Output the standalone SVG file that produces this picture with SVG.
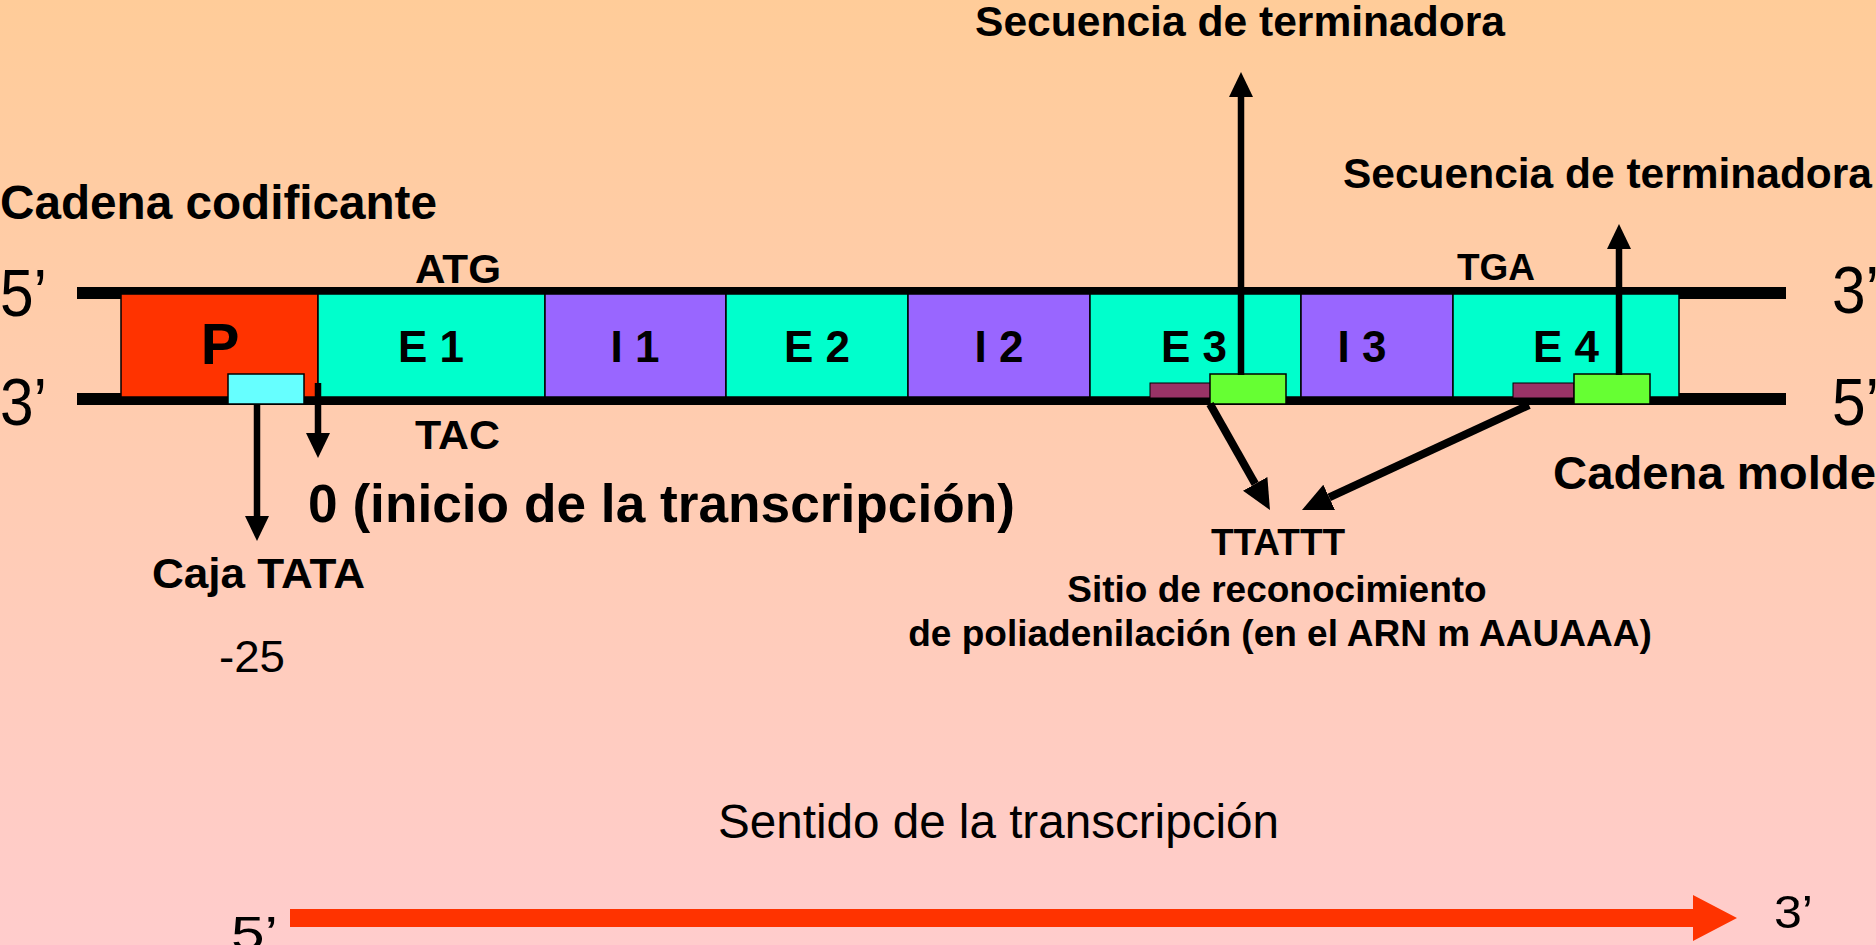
<svg xmlns="http://www.w3.org/2000/svg" width="1876" height="945" viewBox="0 0 1876 945">
<defs>
<linearGradient id="bg" x1="0" y1="0" x2="0" y2="1">
<stop offset="0" stop-color="#FFCC99"/>
<stop offset="1" stop-color="#FFCCCC"/>
</linearGradient>
<marker id="ah" markerUnits="userSpaceOnUse" markerWidth="25" markerHeight="24" viewBox="0 0 25 24" refX="0" refY="12" orient="auto"><path d="M0,0 L25,12 L0,24 z" fill="#000"/></marker>
<marker id="ahb" markerUnits="userSpaceOnUse" markerWidth="30" markerHeight="28" viewBox="0 0 30 28" refX="0" refY="14" orient="auto"><path d="M0,0 L30,14 L0,28 z" fill="#000"/></marker>
</defs>
<style>
.b{font-family:"Liberation Sans",Arial,sans-serif;font-weight:bold;fill:#000}
.r{font-family:"Liberation Sans",Arial,sans-serif;fill:#000}
.seg{stroke:#000;stroke-width:1.5}
.ex{fill:#00FFCC}
.in{fill:#9966FF}
.lbl{font-size:44px;text-anchor:middle}
.strand{fill:#000}
.v{stroke:#000;stroke-width:6.5;fill:none;marker-end:url(#ah)}
.d{stroke:#000;stroke-width:8;fill:none;marker-end:url(#ahb)}
.grn{fill:#66FF33;stroke:#000;stroke-width:1.5}
.mar{fill:#993366;stroke:#000;stroke-width:1}
</style>
<rect x="0" y="0" width="1876" height="945" fill="url(#bg)"/>

<g id="strands">
<rect class="strand" x="77" y="287" width="1709" height="12"/>
<rect class="strand" x="77" y="393" width="1709" height="12"/>
</g>

<g id="P"><rect class="seg" x="121" y="294" width="197" height="103" fill="#FF3300"/><text class="b" x="220" y="364" font-size="58" text-anchor="middle">P</text></g>
<g id="E1"><rect class="seg ex" x="318" y="294" width="227" height="103"/><text class="b lbl" x="431" y="362">E 1</text></g>
<g id="I1"><rect class="seg in" x="545" y="294" width="181" height="103"/><text class="b lbl" x="635" y="362">I 1</text></g>
<g id="E2"><rect class="seg ex" x="726" y="294" width="182" height="103"/><text class="b lbl" x="817" y="362">E 2</text></g>
<g id="I2"><rect class="seg in" x="908" y="294" width="182" height="103"/><text class="b lbl" x="999" y="362">I 2</text></g>
<g id="E3"><rect class="seg ex" x="1090" y="294" width="211" height="103"/><text class="b lbl" x="1194" y="362">E 3</text></g>
<g id="I3"><rect class="seg in" x="1301" y="294" width="152" height="103"/><text class="b lbl" x="1362" y="362">I 3</text></g>
<g id="E4"><rect class="seg ex" x="1453" y="294" width="226" height="103"/><text class="b lbl" x="1566" y="362">E 4</text></g>

<g id="tata-box"><rect x="228" y="374" width="76" height="30" fill="#66FFFF" stroke="#000" stroke-width="1.5"/></g>
<g id="polyA-site-1"><rect class="mar" x="1150" y="383" width="61" height="15"/><rect class="grn" x="1210" y="374" width="76" height="30"/></g>
<g id="polyA-site-2"><rect class="mar" x="1513" y="383" width="61" height="15"/><rect class="grn" x="1574" y="374" width="76" height="30"/></g>

<g id="connectors">
<line class="v" x1="1241" y1="375" x2="1241" y2="97"/>
<line class="v" x1="1619" y1="375" x2="1619" y2="249"/>
<line class="v" x1="257" y1="404" x2="257" y2="516"/>
<line class="v" x1="318" y1="383" x2="318" y2="433"/>
<line class="d" x1="1210" y1="404" x2="1255.2" y2="483.9"/>
<line class="d" x1="1529" y1="405" x2="1329.2" y2="497.4"/>
<polygon points="290,909 1693,909 1693,895 1737,918 1693,941 1693,927 290,927" fill="#FF3300"/>
</g>

<g id="labels">
<text class="b" x="975" y="36" font-size="42" textLength="530" lengthAdjust="spacingAndGlyphs">Secuencia de terminadora</text>
<text class="b" x="1343" y="188" font-size="42" textLength="529" lengthAdjust="spacingAndGlyphs">Secuencia de terminadora</text>
<text class="b" x="0" y="219" font-size="48" textLength="437" lengthAdjust="spacingAndGlyphs">Cadena codificante</text>
<text class="r" x="0" y="316" font-size="66" textLength="47" lengthAdjust="spacingAndGlyphs">5’</text>
<text class="r" x="0" y="425" font-size="66" textLength="47" lengthAdjust="spacingAndGlyphs">3’</text>
<text class="r" x="1832" y="313" font-size="66" textLength="47" lengthAdjust="spacingAndGlyphs">3’</text>
<text class="r" x="1832" y="425" font-size="66" textLength="47" lengthAdjust="spacingAndGlyphs">5’</text>
<text class="b" x="415" y="283" font-size="41" textLength="86" lengthAdjust="spacingAndGlyphs">ATG</text>
<text class="b" x="415" y="449" font-size="41" textLength="85" lengthAdjust="spacingAndGlyphs">TAC</text>
<text class="b" x="1457" y="280" font-size="37" textLength="78" lengthAdjust="spacingAndGlyphs">TGA</text>
<text class="b" x="308" y="522" font-size="54" textLength="707" lengthAdjust="spacingAndGlyphs">0 (inicio de la transcripción)</text>
<text class="b" x="152" y="588" font-size="43" textLength="213" lengthAdjust="spacingAndGlyphs">Caja TATA</text>
<text class="r" x="219" y="672" font-size="44" textLength="66" lengthAdjust="spacingAndGlyphs">-25</text>
<text class="b" x="1553" y="489" font-size="47" textLength="323" lengthAdjust="spacingAndGlyphs">Cadena molde</text>
<text class="b" x="1278" y="555" font-size="37" text-anchor="middle">TTATTT</text>
<text class="b" x="1277" y="602" font-size="37" text-anchor="middle">Sitio de reconocimiento</text>
<text class="b" x="1280" y="646" font-size="37" text-anchor="middle">de poliadenilación (en el ARN m AAUAAA)</text>
<text class="r" x="718" y="838" font-size="48" textLength="561" lengthAdjust="spacingAndGlyphs">Sentido de la transcripción</text>
<text class="r" x="231" y="950" font-size="49" textLength="47" lengthAdjust="spacingAndGlyphs">5’</text>
<text class="r" x="1774" y="928" font-size="47" textLength="39" lengthAdjust="spacingAndGlyphs">3’</text>
</g>
</svg>
